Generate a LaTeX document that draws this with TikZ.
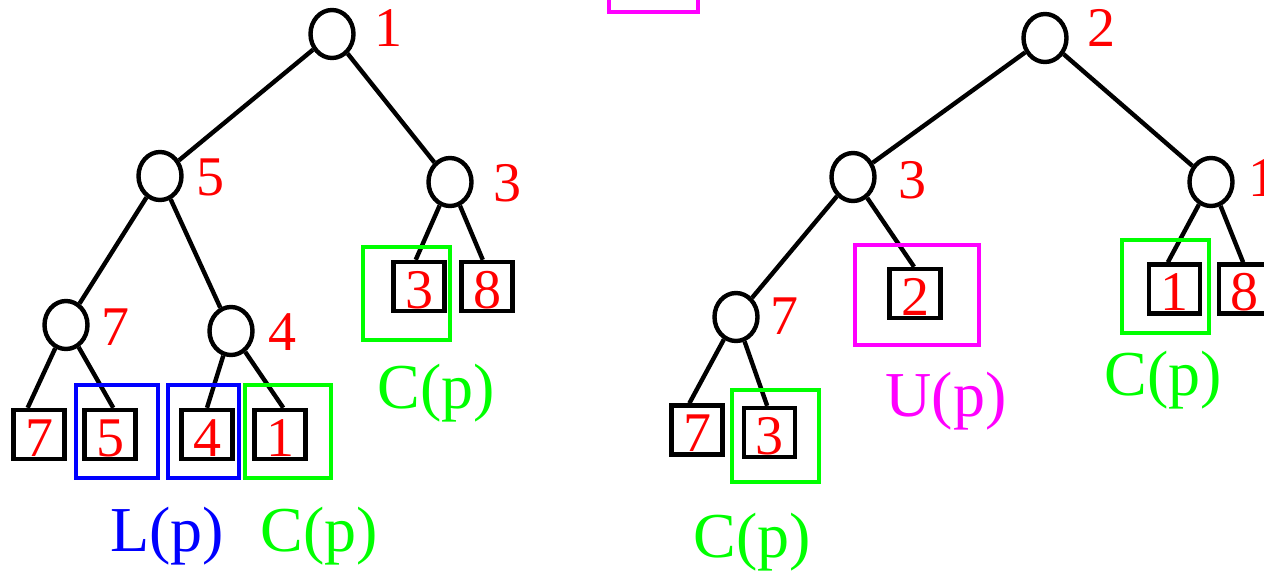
\documentclass[tikz,border=0pt]{standalone}
\usepackage{fontspec}
\setmainfont{Liberation Serif}
\usetikzlibrary{shapes.geometric}
\definecolor{keyred}{RGB}{255,0,0}
\definecolor{setgreen}{RGB}{0,255,0}
\definecolor{setblue}{RGB}{0,0,255}
\definecolor{setmag}{RGB}{255,0,255}
\begin{document}
\begin{tikzpicture}[x=1pt,y=-1pt,
  inner/.style={draw,ellipse,line width=4.4pt,minimum width=43pt,minimum height=48pt,inner sep=0pt},
  leaf/.style={draw,rectangle,line width=4.4pt,minimum width=51pt,minimum height=49pt,inner sep=0pt,
    text=keyred,font=\fontsize{56}{60}\selectfont,text height=43pt,text depth=0pt},
  key/.style={text=keyred,font=\fontsize{56}{60}\selectfont,inner sep=0pt},
  tag/.style={font=\fontsize{64}{70}\selectfont,inner sep=0pt},
  edge/.style={line width=4.4pt},
  setbox/.style={line width=4.2pt}]
\useasboundingbox (0,0) rectangle (1264,574);
\clip (0,0) rectangle (1264,574);

% ---------- left heap ----------
\node[inner] (r1) at (332,34) {};
\node[inner] (a5) at (160,176) {};
\node[inner] (a3) at (450,182) {};
\node[inner] (a7) at (66,325) {};
\node[inner] (a4) at (231,331) {};
\node[key] (kr1) at (388,28) {1};
\node[key] (ka5) at (210,177) {5};
\node[key] (ka3) at (507,183) {3};
\node[key] (ka7) at (115,327) {7};
\node[key] (ka4) at (282,332) {4};

\node[leaf] (b7) at (39,434.5) {7};
\node[leaf] (b5) at (110,434.5) {5};
\node[leaf] (b4) at (207,434.5) {4};
\node[leaf] (b1) at (280,434.5) {1};
\node[leaf] (b3) at (419,286.5) {3};
\node[leaf] (b8) at (487,286.5) {8};

\draw[edge] (r1) -- (a5);
\draw[edge] (r1) -- (a3);
\draw[edge] (a5) -- (a7);
\draw[edge] (a5) -- (a4);
\draw[edge] (a7) -- (b7.113);
\draw[edge] (a7) -- (b5.83);
\draw[edge] (a4) -- (b4.90);
\draw[edge] (a4) -- (b1.83);
\draw[edge] (a3) -- (b3.97);
\draw[edge] (a3) -- (b8.99);

\draw[setbox,setblue] (76,385) rectangle (158,478);
\draw[setbox,setblue] (168,385) rectangle (239,478);
\draw[setbox,setgreen] (245,385) rectangle (331,478);
\draw[setbox,setgreen] (363,247) rectangle (450,340);

\node[tag,text=setblue] (tl) at (167,536) {L(p)};
\node[tag,text=setgreen] (tc1) at (319,536) {C(p)};
\node[tag,text=setgreen] (tc2) at (436,393) {C(p)};

% ---------- top marker ----------
\draw[setbox,setmag] (609,-20) rectangle (698,12);

% ---------- right heap ----------
\node[inner] (r2) at (1045,38) {};
\node[inner] (c3) at (853,177) {};
\node[inner] (c1) at (1211,182) {};
\node[inner] (c7) at (736,317) {};
\node[key] (kr2) at (1101,28) {2};
\node[key] (kc3) at (912,180) {3};
\node[key] (kc1) at (1262,178) {1};
\node[key] (kc7) at (784,316) {7};

\node[leaf] (d2) at (915,293.5) {2};
\node[leaf] (d1) at (1174.5,289) {1};
\node[leaf] (d8) at (1244.5,289) {8};
\node[leaf] (d7) at (697,430) {7};
\node[leaf] (d3) at (769.5,432.5) {3};

\draw[edge] (r2) -- (c3);
\draw[edge] (r2) -- (c1);
\draw[edge] (c3) -- (c7);
\draw[edge] (c3) -- (d2.92);
\draw[edge] (c1) -- (d1.104);
\draw[edge] (c1) -- (d8.93);
\draw[edge] (c7) -- (d7.106);
\draw[edge] (c7) -- (d3.95);

\draw[setbox,setmag] (855,245) rectangle (979,345);
\draw[setbox,setgreen] (1122,240) rectangle (1209,333);
\draw[setbox,setgreen] (732,390) rectangle (819,482);

\node[tag,text=setmag] (tu) at (946,401) {U(p)};
\node[tag,text=setgreen] (tc3) at (1163,380) {C(p)};
\node[tag,text=setgreen] (tc4) at (752,542) {C(p)};
\end{tikzpicture}
\end{document}
